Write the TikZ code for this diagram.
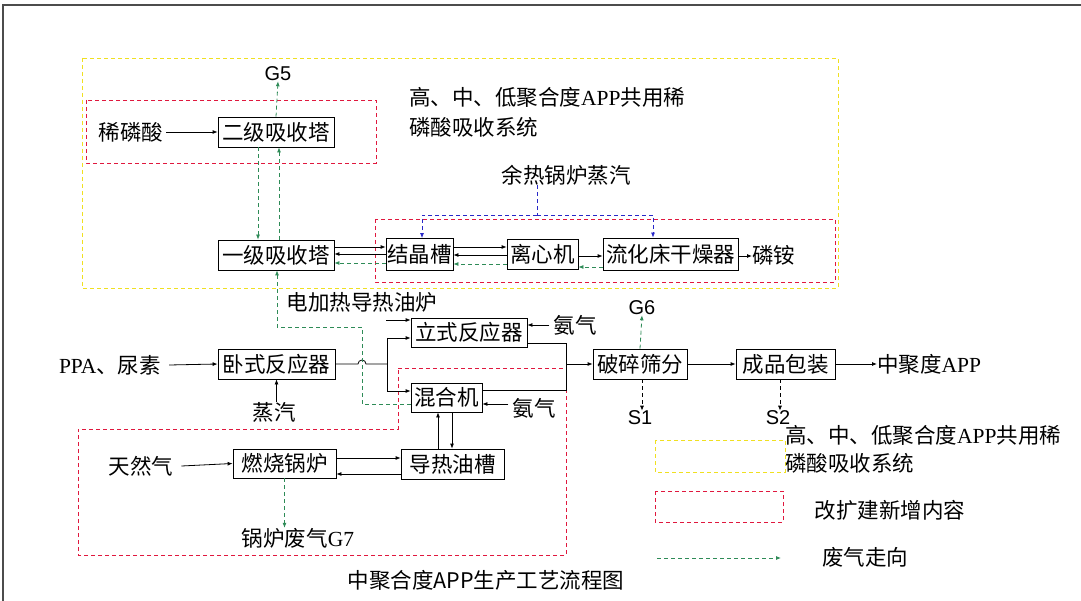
\documentclass[tikz,border=0pt]{standalone}
\usepackage{fontspec}
\setmainfont{Noto Sans CJK SC}
\newfontfamily\latf{Liberation Sans}
\newfontfamily\serf{Liberation Serif}
\usetikzlibrary{arrows.meta}
\definecolor{redd}{HTML}{E0183E}
\definecolor{yel}{HTML}{F0E020}
\definecolor{grn}{HTML}{2E8B57}
\definecolor{blu}{HTML}{2828C8}
\begin{document}
\begin{tikzpicture}[x=1pt,y=-1pt,
  box/.style={draw,line width=0.8pt,inner sep=0pt,minimum height=30pt,font=\fontsize{21.5}{21.5}\selectfont},
  lbl/.style={inner sep=0pt,font=\fontsize{21.5}{21.5}\selectfont},
  glbl/.style={inner sep=0pt,font=\latf\fontsize{20}{20}\selectfont},
  ln/.style={line width=0.8pt,-{Latex[length=5pt,width=4pt]}},
  pl/.style={line width=0.8pt},
  gas/.style={grn,line width=0.8pt,dash pattern=on 4pt off 3pt,-{Latex[length=5pt,width=4pt]}},
  bl/.style={blu,line width=0.8pt,dash pattern=on 4pt off 3pt},
  redbox/.style={redd,line width=0.8pt,dash pattern=on 4pt off 3pt},
  yelbox/.style={yel,line width=0.8pt,dash pattern=on 4pt off 3pt}]
\useasboundingbox (0,0) rectangle (1081,601);
\fill[white] (0,0) rectangle (1081,601);
% frame
\draw[line width=1.2pt,black!70] (3,601) -- (3,5) -- (1081,5);
% group boxes
\draw[yelbox] (82,58) rectangle (838,288);
\draw[redbox] (86,100) rectangle (376,163);
\draw[redbox] (375,219) rectangle (835,282);
\draw[redbox] (398,368) -- (566,368) -- (566,555) -- (78,555) -- (78,429) -- (398,429) -- cycle;

% process boxes
\node[box,minimum width=116pt] (er) at (276,132) {二级吸收塔};
\node[box,minimum width=116pt] (yi) at (276,255) {一级吸收塔};
\node[box,minimum width=67pt,minimum height=32pt] (jj) at (419.5,254.5) {结晶槽};
\node[box,minimum width=71pt] (lx) at (542.5,254) {离心机};
\node[box,minimum width=135pt,minimum height=32pt] (lh) at (670.5,254) {流化床干燥器};
\node[box,minimum width=116pt,minimum height=29pt] (ls) at (469,332.5) {立式反应器};
\node[box,minimum width=117pt] (ws) at (276.5,364) {卧式反应器};
\node[box,minimum width=71pt,minimum height=29pt] (hh) at (446.5,397.5) {混合机};
\node[box,minimum width=94pt] (ps) at (640,364) {破碎筛分};
\node[box,minimum width=99pt] (cp) at (785.5,364) {成品包装};
\node[box,minimum width=103pt,minimum height=29pt] (rs) at (284.5,463.5) {燃烧锅炉};
\node[box,minimum width=103pt] (dr) at (452.5,464) {导热油槽};

% labels
\node[lbl] (xls) at (131,132) {稀磷酸};
\node[glbl] (g5) at (278,74) {G5};
\node[lbl,anchor=west] (tt1) at (409,97) {高、中、低聚合度{\serf APP}共用稀};
\node[lbl,anchor=west] (tt2) at (409,127) {磷酸吸收系统};
\node[lbl] (ybz) at (566,175) {余热锅炉蒸汽};
\node[lbl,anchor=west] (la) at (752,255) {磷铵};
\node[lbl] (djr) at (362,302) {电加热导热油炉};
\node[lbl] (aq1) at (575,325) {氨气};
\node[glbl] (g6) at (642,308) {G6};
\node[lbl] (ppa) at (110,365) {{\serf PPA}、尿素};
\node[lbl,anchor=west] (app) at (877,364) {中聚度{\serf APP}};
\node[lbl] (aq2) at (534,408) {氨气};
\node[lbl] (zq) at (274,412) {蒸汽};
\node[glbl] (s1) at (640,418) {S1};
\node[glbl] (s2) at (778,418) {S2};
\node[lbl] (trq) at (141,466) {天然气};
\node[lbl] (g7) at (298,538) {锅炉废气{\serf G7}};
\node[lbl] (title) at (486,580) {中聚合度APP生产工艺流程图};

% legend
\draw[yelbox] (655,440) rectangle (785,472);
\draw[redbox] (655,491) rectangle (783,522);
\node[lbl,anchor=west] (lg1) at (785,435) {高、中、低聚合度{\serf APP}共用稀};
\node[lbl,anchor=west] (lg2) at (785,463) {磷酸吸收系统};
\node[lbl] (lg3) at (890,510) {改扩建新增内容};
\coordinate (lga) at (657,558);
\coordinate (lgb) at (781,558);
\draw[gas] (lga) -- (lgb);
\node[lbl] (lg4) at (865,557) {废气走向};

% top absorption part
\draw[ln] ([xshift=3pt]xls.east) -- (er.west);
\draw[gas] (er.north) -- (g5.south);
\draw[gas] (er.south -| 258,0) -- (yi.north -| 258,0);
\draw[gas] (yi.north -| 279,0) -- (er.south -| 279,0);

\draw[ln] (yi.east |- 0,247) -- (jj.west |- 0,247);
\draw[ln] (jj.west |- 0,254) -- (yi.east |- 0,254);
\draw[gas] (jj.west |- 0,263) -- (yi.east |- 0,263);
\draw[ln] (jj.east |- 0,247) -- (lx.west |- 0,247);
\draw[ln] (lx.west |- 0,255) -- (jj.east |- 0,255);
\draw[gas] (lx.west |- 0,264) -- (jj.east |- 0,264);
\draw[ln] (lx.east |- 0,256) -- (lh.west |- 0,256);
\draw[gas] (lh.west |- 0,267) -- (lx.east |- 0,267);
\draw[ln] (lh.east |- 0,256) -- (la.west |- 0,256);

\coordinate (bj) at (537,215);
\draw[bl] (ybz.south -| bj) -- (bj);
\draw[bl,-{Latex[length=5pt,width=4pt]}] (bj) -| (jj.north -| 422,0);
\draw[bl,-{Latex[length=5pt,width=4pt]}] (bj) -| (lh.north -| 653,0);

% reactors
\draw[ln] ([xshift=8pt]ppa.east) -- (ws.west);
\draw[ln] (zq.north -| ws.south) -- (ws.south);
\coordinate (jn) at (387,364);
\draw[pl] (ws.east) -- (358,364) arc[start angle=180,end angle=0,radius=4pt] -- (jn);
\draw[ln] (jn |- 0,338) -- (ls.west |- 0,338);
\draw[pl] (jn |- 0,338) -- (jn |- 0,391);
\draw[ln] (jn |- 0,391) -- (hh.west |- 0,391);
\coordinate (djs) at (386,320);
\draw[ln] (djs) -- (ls.west |- djs);
\draw[ln] (aq1.west |- 0,325) ++(-4pt,0) -- (ls.east |- 0,325);
\draw[ln] (aq2.west |- 0,404) ++(-4pt,0) -- (hh.east |- 0,404);

\coordinate (mg) at (566,364);
\draw[pl] (ls.east |- 0,343) -| (mg);
\draw[pl] (hh.east |- 0,390) -| (mg);
\draw[ln] (mg) -- (ps.west);
\draw[ln] (ps) -- (cp);
\draw[ln] (cp) -- (app.west);
\draw[gas] (ps.north) -- (g6.south);
\draw[ln,dash pattern=on 4pt off 3pt] (ps.south -| 642,0) -- (s1.north -| 642,0);
\draw[ln,dash pattern=on 4pt off 3pt] (cp.south -| 780,0) -- (s2.north -| 780,0);

% exhaust path from mixer to absorber
\draw[gas] (hh.west |- 0,404) -| (362,327) -| (yi.south -| 277,0);

% boiler
\draw[ln] ([xshift=8pt]trq.east) -- (rs.west);
\draw[ln] (rs.east |- 0,458) -- (dr.west |- 0,458);
\draw[ln] (dr.west |- 0,474) -- (rs.east |- 0,474);
\draw[ln] (dr.north -| 438,0) -- (hh.south -| 438,0);
\draw[ln] (hh.south -| 452,0) -- (dr.north -| 452,0);
\draw[gas] (rs.south) -- (rs.south |- g7.north);
\end{tikzpicture}
\end{document}
